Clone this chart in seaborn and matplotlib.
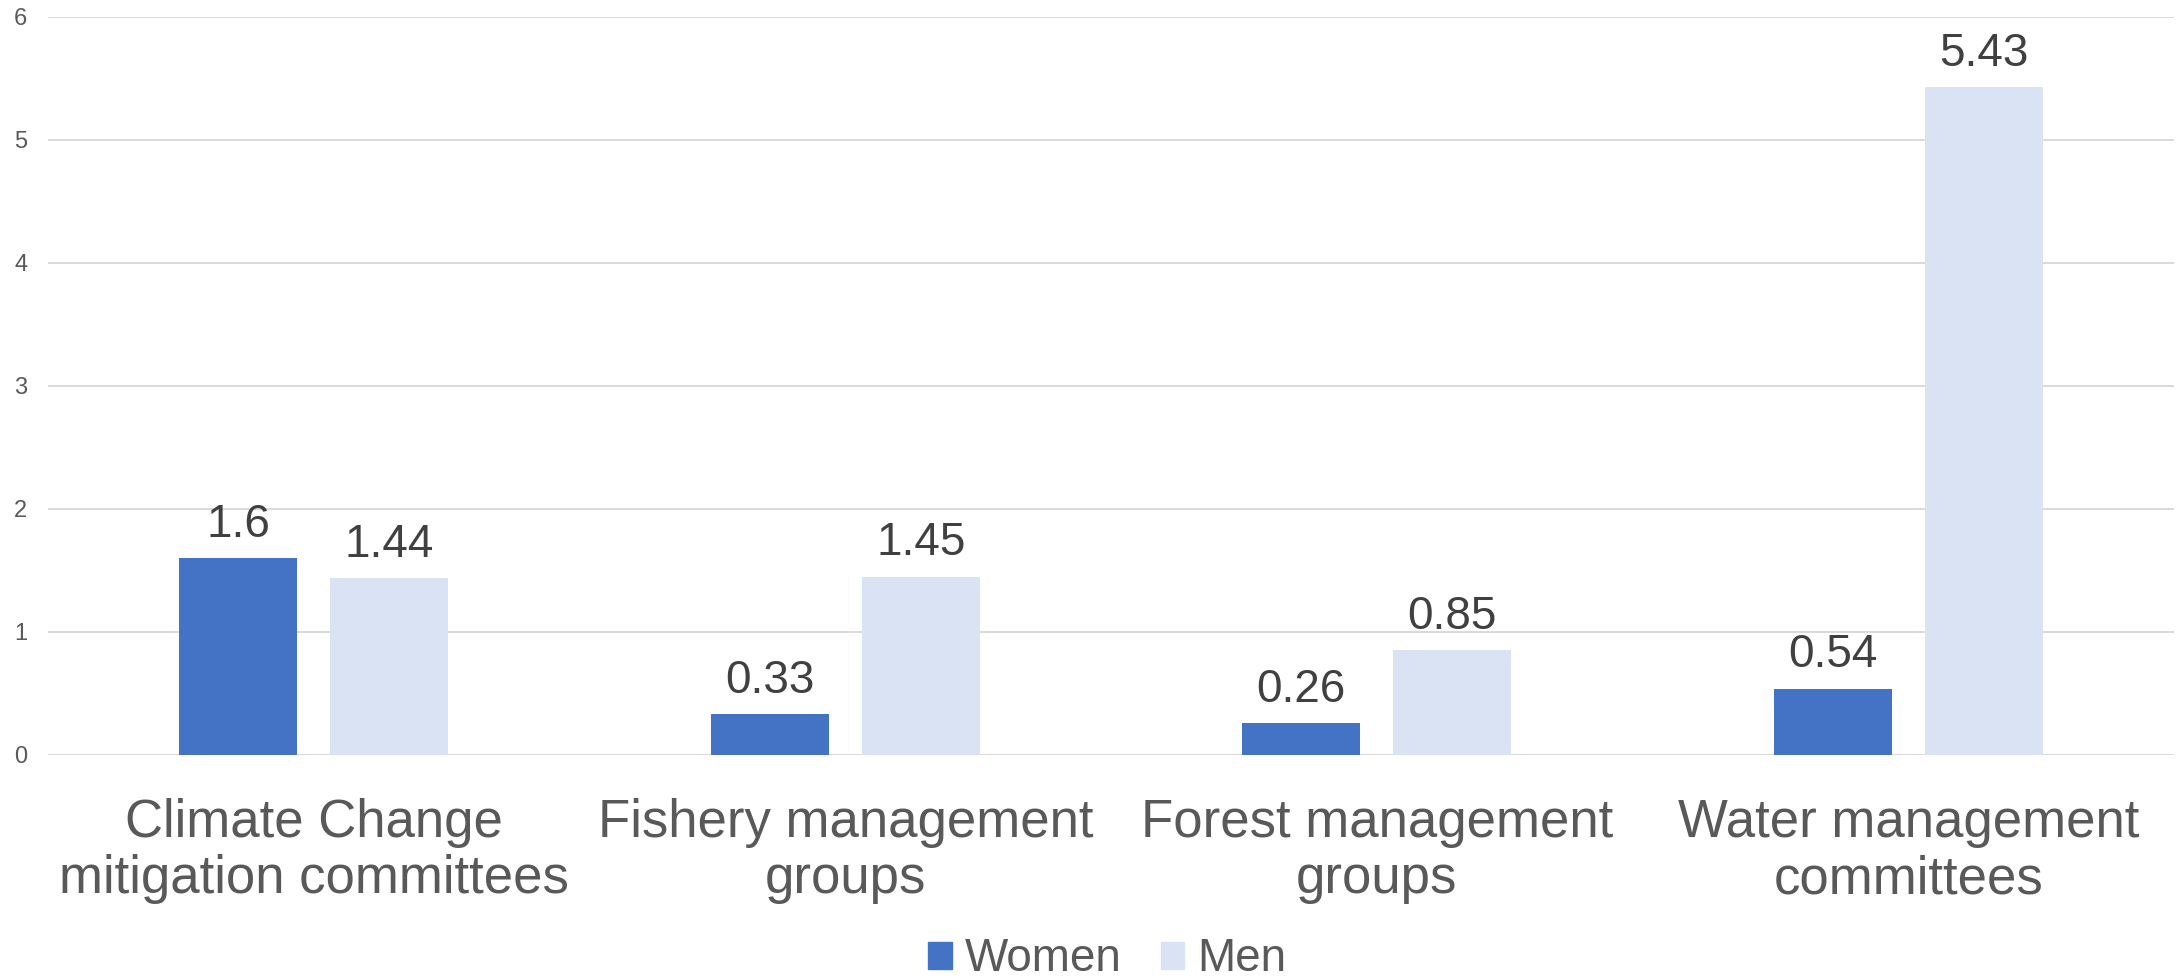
import pandas as pd
import matplotlib
matplotlib.use('Agg')
import matplotlib.pyplot as plt
import seaborn as sns

# chart data
categories = [
    "Climate Change\nmitigation committees",
    "Fishery management\ngroups",
    "Forest management\ngroups",
    "Water management\ncommittees",
]
groups = ["Women", "Men"]
women = [1.6, 0.33, 0.26, 0.54]
men = [1.44, 1.45, 0.85, 5.43]
y_ticks = [0, 1, 2, 3, 4, 5, 6]

colors = ["#4472C4", "#DAE3F3"]

df = pd.DataFrame({
    "category": categories * 2,
    "group": [groups[0]] * len(categories) + [groups[1]] * len(categories),
    "value": women + men,
})

sns.set_style("white")
plt.rcParams["font.family"] = ["Liberation Sans", "DejaVu Sans"]

fig = plt.figure(figsize=(21.84, 9.8), dpi=100)
ax = fig.add_axes([0.022, 0.2296, 0.9734, 0.7534])

sns.barplot(data=df, x="category", y="value", hue="group", order=categories,
            hue_order=groups, palette=colors, saturation=1, width=0.568,
            gap=0.218, linewidth=0, errorbar=None, ax=ax)

for container in ax.containers:
    ax.bar_label(container, fmt="{:g}", padding=8, fontsize=33, color="#404040")

ax.set_ylim(0, 6)
ax.set_yticks(y_ticks)
ax.set_xlim(-0.5, len(categories) - 0.5)
ax.yaxis.grid(True, color="#D9D9D9", linewidth=1.4)
ax.set_axisbelow(True)
for s in ax.spines.values():
    s.set_visible(False)
ax.tick_params(axis="y", length=0, pad=15, labelsize=17, labelcolor="#595959")
ax.tick_params(axis="x", length=0, pad=31, labelsize=38, labelcolor="#595959")
for lbl in ax.get_xticklabels():
    lbl.set_linespacing(1.16)
ax.set_xlabel("")
ax.set_ylabel("")

ax.get_legend().remove()
handles = [plt.Rectangle((0, 0), 1, 1, color=c) for c in colors]
fig.legend(handles, groups, loc="center", bbox_to_anchor=(0.507, 0.021),
           ncol=2, frameon=False, fontsize=33, labelcolor="#595959",
           handlelength=0.52, handleheight=0.52, handletextpad=0.28,
           columnspacing=0.85)

fig.savefig("out.png", dpi=100)
